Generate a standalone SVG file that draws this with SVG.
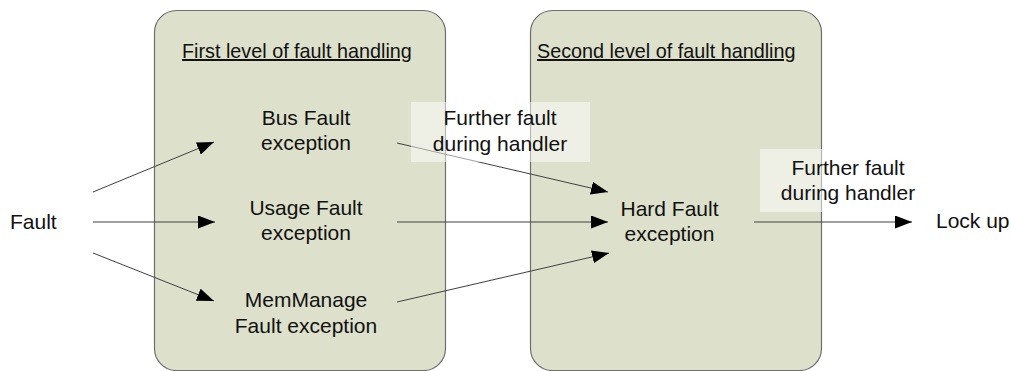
<svg xmlns="http://www.w3.org/2000/svg" width="1011" height="371" viewBox="0 0 1011 371">
<defs>
<marker id="arr" markerUnits="userSpaceOnUse" markerWidth="17" markerHeight="13" refX="17" refY="6.5" orient="auto">
<path d="M0,0 L17,6.5 L0,13 z" fill="#000"/>
</marker>
<style>
.box{fill:#dde0cb;stroke:#6e6e6e;stroke-width:1.2}
.t{font-family:"Liberation Sans",Arial,sans-serif;font-size:21px;fill:#111;text-anchor:middle}
.ts{font-family:"Liberation Sans",Arial,sans-serif;font-size:21px;fill:#111}
.title{font-family:"Liberation Sans",Arial,sans-serif;font-size:19.8px;fill:#111;text-decoration:underline}
.lbg{fill:#ffffff;fill-opacity:0.5}
.c{stroke:#404040;stroke-width:1;fill:none;marker-end:url(#arr)}
</style>
</defs>
<rect width="1011" height="371" fill="#fff"/>
<g id="level1">
<rect class="box" x="154.5" y="10.5" width="291" height="360" rx="22"/>
<text class="title" x="182" y="58">First level of fault handling</text>
</g>
<g id="level2">
<rect class="box" x="530.5" y="10.5" width="291" height="360" rx="22"/>
<text class="title" x="537" y="58">Second level of fault handling</text>
</g>
<g id="fault"><text class="ts" x="10" y="229">Fault</text></g>
<g id="bus"><text class="t" x="306" y="125">Bus Fault</text><text class="t" x="306" y="150">exception</text></g>
<g id="usage"><text class="t" x="306" y="215">Usage Fault</text><text class="t" x="306" y="240">exception</text></g>
<g id="memmanage"><text class="t" x="306" y="307">MemManage</text><text class="t" x="306" y="333">Fault exception</text></g>
<g id="hard"><text class="t" x="669.5" y="216">Hard Fault</text><text class="t" x="669.5" y="241">exception</text></g>
<g id="lockup"><text class="ts" x="936" y="228">Lock up</text></g>
<g id="connectors">
<line class="c" x1="93" y1="192" x2="214" y2="142"/>
<line class="c" x1="93" y1="222" x2="215" y2="222"/>
<line class="c" x1="93" y1="253" x2="214" y2="301"/>
<line class="c" x1="397" y1="143" x2="608" y2="192"/>
<line class="c" x1="397" y1="222" x2="608" y2="222"/>
<line class="c" x1="397" y1="302" x2="609" y2="253"/>
<line class="c" x1="754" y1="222" x2="912" y2="222"/>
</g>
<g id="label1">
<rect class="lbg" x="411" y="102" width="179" height="60"/>
<text class="t" x="500" y="125">Further fault</text><text class="t" x="500" y="151">during handler</text>
</g>
<g id="label2">
<rect class="lbg" x="760" y="149" width="177" height="63"/>
<text class="t" x="848" y="175">Further fault</text><text class="t" x="848" y="200">during handler</text>
</g>
</svg>
